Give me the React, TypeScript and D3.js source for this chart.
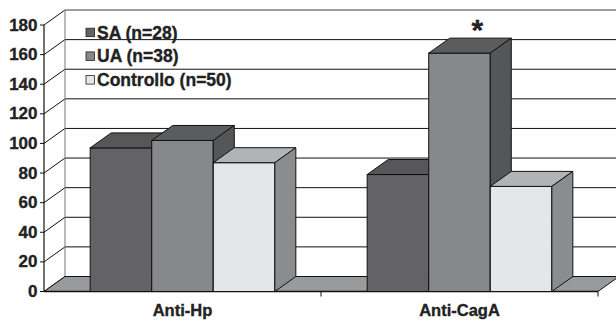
import React from "react";
import * as d3 from "d3";

const categories = ["Anti-Hp", "Anti-CagA"];
const seriesNames = ["SA (n=28)", "UA (n=38)", "Controllo (n=50)"];
const saValues = [97, 79];
const uaValues = [102, 161];
const controlValues = [87, 71];
const yTicks = [0, 20, 40, 60, 80, 100, 120, 140, 160, 180];
const starCategory = "Anti-CagA";
const starSeries = 1;

const frontColors = ["#636365", "#87888a", "#e5e6e7"];
const topColors = ["#575759", "#5b5c5e", "#b2b3b5"];
const sideColors = ["#505052", "#555658", "#8b8c8e"];

const W = 616;
const H = 322;
const DX = 21;
const DY = -15;
const X0 = 44;
const X1 = 598;
const FONT = "'Liberation Sans', Arial, Helvetica, sans-serif";

export default function App() {
  const y = d3.scaleLinear().domain([0, 180]).range([291.5, 25]);
  const xCat = d3.scaleBand<string>().domain(categories).range([X0, X1]).padding(0);
  const xSer = d3
    .scaleBand<number>()
    .domain([0, 1, 2])
    .range([0, xCat.bandwidth()])
    .paddingInner(0)
    .paddingOuter(0.75);
  const allSeries = [saValues, uaValues, controlValues];
  const y0 = y(0);
  const yTop = y(180);

  const bars: React.ReactNode[] = [];
  categories.forEach((c, ci) => {
    allSeries.forEach((vals, si) => {
      const xl = (xCat(c) as number) + (xSer(si) as number);
      const xr = xl + xSer.bandwidth();
      const yt = y(vals[ci]);
      const stroke = "#111";
      bars.push(
        <g key={`${c}-${si}`}>
          <rect x={xl} y={yt} width={xr - xl} height={y0 - yt} fill={frontColors[si]} stroke={stroke} strokeWidth={1} />
          <polygon
            points={`${xl},${yt} ${xl + DX},${yt + DY} ${xr + DX},${yt + DY} ${xr},${yt}`}
            fill={topColors[si]}
            stroke={stroke}
            strokeWidth={1}
            strokeLinejoin="round"
          />
          <polygon
            points={`${xr},${yt} ${xr + DX},${yt + DY} ${xr + DX},${y0 + DY} ${xr},${y0}`}
            fill={sideColors[si]}
            stroke={stroke}
            strokeWidth={1}
            strokeLinejoin="round"
          />
        </g>
      );
    });
  });

  const starX =
    (xCat(starCategory) as number) + (xSer(starSeries) as number) + xSer.bandwidth() / 2 + DX * 0.85;
  const starVal = allSeries[starSeries][categories.indexOf(starCategory)];

  const textProps = { fontWeight: "bold", fill: "#222", stroke: "#222", strokeWidth: 0.35 };

  return (
    <svg
      width={W}
      height={H}
      viewBox={`0 0 ${W} ${H}`}
      style={{ position: "absolute", left: 0, top: 0, background: "#fff" }}
      fontFamily={FONT}
    >
      <rect x={0} y={0} width={W} height={H} fill="#fff" />
      {/* back wall gridlines */}
      {yTicks.map((t) => (
        <line
          key={`g${t}`}
          x1={X0 + DX}
          x2={X1 + DX}
          y1={y(t) + DY}
          y2={y(t) + DY}
          stroke={t === 180 ? "#808080" : "#111"}
          strokeWidth={t === 180 ? 1.6 : 1}
        />
      ))}
      {/* left wall diagonals */}
      {yTicks.map((t) => (
        <line key={`d${t}`} x1={X0} y1={y(t)} x2={X0 + DX} y2={y(t) + DY} stroke="#111" strokeWidth={1} />
      ))}
      <line x1={X0 + DX} x2={X0 + DX} y1={yTop + DY} y2={y0 + DY} stroke="#777" strokeWidth={1} />
      {/* floor */}
      <polygon
        points={`${X0},${y0} ${X1},${y0} ${X1 + DX},${y0 + DY} ${X0 + DX},${y0 + DY}`}
        fill="#999a9c"
        stroke="#111"
        strokeWidth={1}
      />
      {/* front axis */}
      <line x1={X0} x2={X0} y1={yTop} y2={y0} stroke="#111" strokeWidth={1.2} />
      <line x1={X0} x2={X1} y1={y0} y2={y0} stroke="#111" strokeWidth={1.6} />
      {yTicks.map((t) => (
        <g key={`t${t}`}>
          <line x1={X0 - 4} x2={X0} y1={y(t)} y2={y(t)} stroke="#111" strokeWidth={1} />
          <text x={37.5} y={y(t)} textAnchor="end" dominantBaseline="central" fontSize={17} {...textProps}>
            {t}
          </text>
        </g>
      ))}
      {[...categories.map((c) => xCat(c) as number), X1].slice(1).map((xv, i) => (
        <line key={`ct${i}`} x1={xv} x2={xv} y1={y0} y2={y0 + 5} stroke="#111" strokeWidth={1} />
      ))}
      {bars}
      {categories.map((c) => (
        <text
          key={`cl${c}`}
          x={(xCat(c) as number) + xCat.bandwidth() / 2}
          y={309.5}
          textAnchor="middle"
          dominantBaseline="central"
          fontSize={16.5}
          {...textProps}
        >
          {c}
        </text>
      ))}
      <text x={starX} y={y(starVal) + DY + 2} textAnchor="middle" fontSize={30} {...textProps}>
        *
      </text>
      {/* legend */}
      {seriesNames.map((s, i) => {
        const ly = 32.7 + i * 23.7;
        return (
          <g key={`l${i}`}>
            <rect x={86} y={ly - 4.5} width={8.5} height={8.5} fill={frontColors[i]} stroke="#222" strokeWidth={0.8} />
            <text x={97} y={ly} dominantBaseline="central" fontSize={17.5} {...textProps}>
              {s}
            </text>
          </g>
        );
      })}
    </svg>
  );
}
